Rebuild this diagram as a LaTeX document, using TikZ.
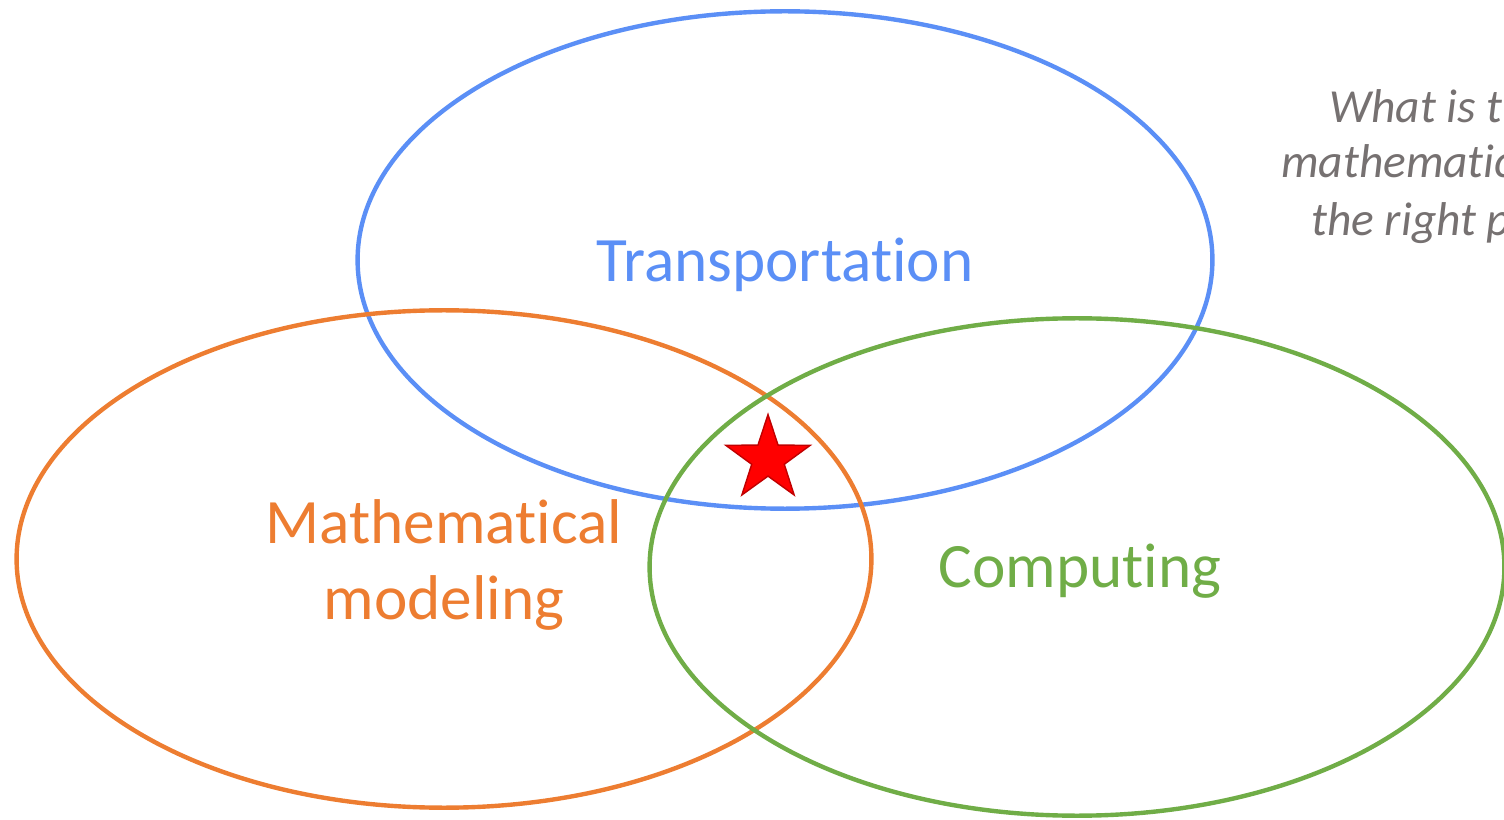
\documentclass[tikz,border=0pt]{standalone}
\usepackage{fontspec}
\setmainfont{Carlito}[Ligatures=NoCommon]
\usepackage{xcolor}
\usepackage{tikz}
\usetikzlibrary{shapes.geometric}
\definecolor{corazul}{RGB}{91,143,246}
\definecolor{corlaranja}{RGB}{237,125,49}
\definecolor{corverde}{RGB}{112,173,71}
\definecolor{corcinza}{RGB}{118,113,113}
\definecolor{corvermelho}{RGB}{255,0,0}
\definecolor{corborda}{RGB}{192,0,0}

\begin{document}
\begin{tikzpicture}[
  x=0.02cm, y=-0.02cm,
  elipse/.style={ellipse, draw=#1, line width=2.5pt, inner sep=0pt,
                 minimum width=17.1cm, minimum height=9.95cm},
  rotulo/.style={text=#1, align=center, font=\fontsize{36}{43.5}\selectfont},
  pergunta/.style={anchor=base west, text=corcinza,
                   font=\fontsize{27}{33}\selectfont\itshape},
  estrela/.style={star, star points=5, star point ratio=2.6, minimum size=1.78cm,
                  inner sep=0pt, fill=corvermelho, draw=corborda, line width=0.8pt}
]
  \useasboundingbox (0,0) rectangle (1504,820);
  \clip (0,0) rectangle (1504,820);

  % os tres conjuntos
  \node[elipse=corazul] (transp) at (785,260) {};
  \node[elipse=corlaranja] (modelo) at (444,559) {};
  \node[elipse=corverde] (comput) at (1077,567) {};

  \node[rotulo=corazul] (ltransp) at (785,265) {Transportation};
  \node[rotulo=corlaranja] (lmodelo) at (444,565) {Mathematical\\ modeling};
  \node[rotulo=corverde] (lcomput) at (1080,571) {Computing};

  % intersecao
  \node[estrela] (alvo) at (768,459) {};

  % texto cortado na margem direita
  \node[pergunta] (perg1) at (1323,123) {What is t};
  \node[pergunta] (perg2) at (1275,178) {mathematic};
  \node[pergunta] (perg3) at (1305,236) {the right p};
\end{tikzpicture}
\end{document}
